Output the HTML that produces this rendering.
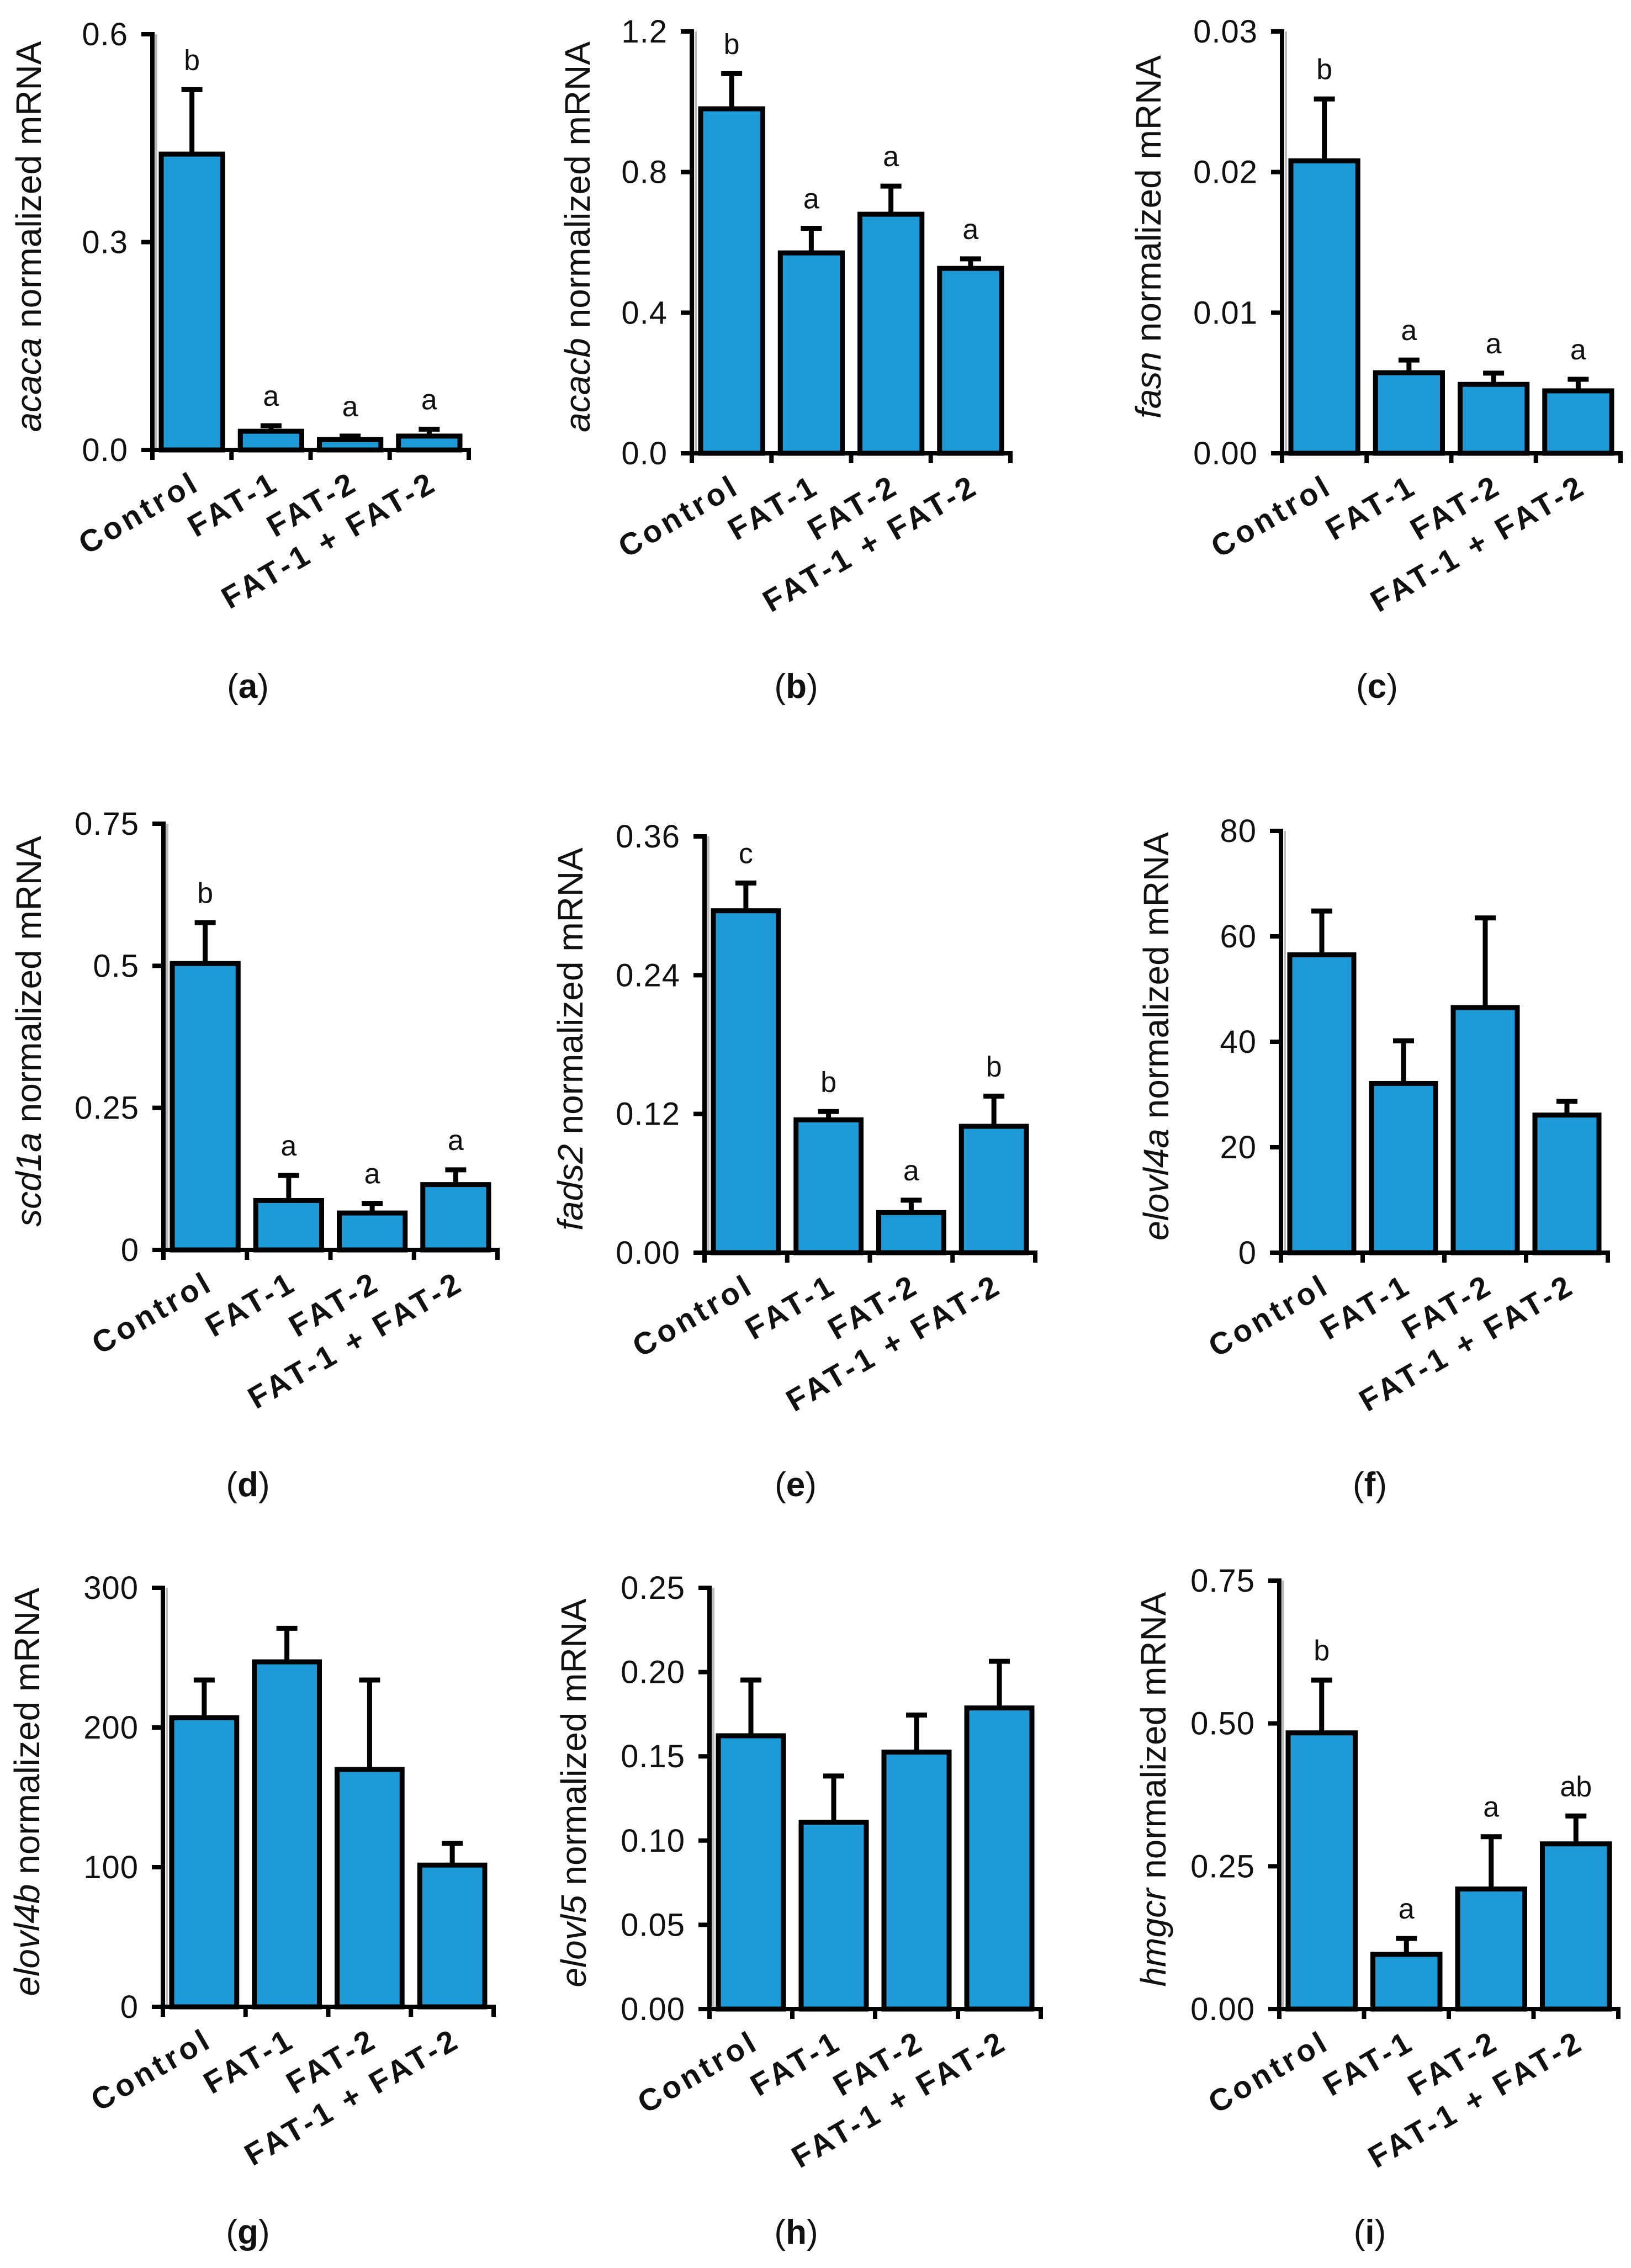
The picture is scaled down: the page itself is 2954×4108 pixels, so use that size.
<!DOCTYPE html>
<html><head><meta charset="utf-8">
<style>
html,body{margin:0;padding:0;background:#fff;}
svg{display:block;}
text{font-family:"Liberation Sans",Arial,sans-serif;fill:#111;}
</style></head>
<body>
<svg id="fig" width="2954" height="4108" viewBox="0 0 2954 4108" xmlns="http://www.w3.org/2000/svg"></svg>
<script>
const categories = ["Control", "FAT-1", "FAT-2", "FAT-1 + FAT-2"];

const acacaMean = [0.427, 0.027, 0.015, 0.020];
const acacaErr  = [0.520, 0.035, 0.020, 0.030];
const acacaLetters = ["b", "a", "a", "a"];
const acacaTicks = ["0.0", "0.3", "0.6"];
const acacaTickVals = [0, 0.3, 0.6];

const acacbMean = [0.98, 0.57, 0.68, 0.526];
const acacbErr  = [1.08, 0.64, 0.76, 0.553];
const acacbLetters = ["b", "a", "a", "a"];
const acacbTicks = ["0.0", "0.4", "0.8", "1.2"];
const acacbTickVals = [0, 0.4, 0.8, 1.2];

const fasnMean = [0.0208, 0.00573, 0.0049, 0.00444];
const fasnErr  = [0.0252, 0.00663, 0.0057, 0.00526];
const fasnLetters = ["b", "a", "a", "a"];
const fasnTicks = ["0.00", "0.01", "0.02", "0.03"];
const fasnTickVals = [0, 0.01, 0.02, 0.03];

const scd1aMean = [0.504, 0.087, 0.065, 0.115];
const scd1aErr  = [0.576, 0.131, 0.082, 0.141];
const scd1aLetters = ["b", "a", "a", "a"];
const scd1aTicks = ["0", "0.25", "0.5", "0.75"];
const scd1aTickVals = [0, 0.25, 0.5, 0.75];

const fads2Mean = [0.2957, 0.1149, 0.0347, 0.1093];
const fads2Err  = [0.3197, 0.1221, 0.0454, 0.1354];
const fads2Letters = ["c", "b", "a", "b"];
const fads2Ticks = ["0.00", "0.12", "0.24", "0.36"];
const fads2TickVals = [0, 0.12, 0.24, 0.36];

const elovl4aMean = [56.5, 32.1, 46.5, 26.1];
const elovl4aErr  = [64.8, 40.2, 63.5, 28.7];
const elovl4aLetters = ["", "", "", ""];
const elovl4aTicks = ["0", "20", "40", "60", "80"];
const elovl4aTickVals = [0, 20, 40, 60, 80];

const elovl4bMean = [207, 247, 170, 101.5];
const elovl4bErr  = [234, 271, 234, 117];
const elovl4bLetters = ["", "", "", ""];
const elovl4bTicks = ["0", "100", "200", "300"];
const elovl4bTickVals = [0, 100, 200, 300];

const elovl5Mean = [0.1622, 0.1109, 0.1525, 0.1787];
const elovl5Err  = [0.1953, 0.1383, 0.1745, 0.2064];
const elovl5Letters = ["", "", "", ""];
const elovl5Ticks = ["0.00", "0.05", "0.10", "0.15", "0.20", "0.25"];
const elovl5TickVals = [0, 0.05, 0.10, 0.15, 0.20, 0.25];

const hmgcrMean = [0.4835, 0.0958, 0.2102, 0.2892];
const hmgcrErr  = [0.5759, 0.1236, 0.3018, 0.338];
const hmgcrLetters = ["b", "a", "a", "ab"];
const hmgcrTicks = ["0.00", "0.25", "0.50", "0.75"];
const hmgcrTickVals = [0, 0.25, 0.50, 0.75];

const NS = "http://www.w3.org/2000/svg";
const svg = document.getElementById("fig");
function mk(tag, attrs, parent) {
  const e = document.createElementNS(NS, tag);
  for (const k in attrs) e.setAttribute(k, attrs[k]);
  (parent || svg).appendChild(e);
  return e;
}

const panels = [
  {id:"a", gene:"acaca", mean:acacaMean, err:acacaErr, letters:acacaLetters, ticks:acacaTicks, tv:acacaTickVals, ax:276, right:849, top:62, zero:815, tx:51, lx:449, ly:1242},
  {id:"b", gene:"acacb", mean:acacbMean, err:acacbErr, letters:acacbLetters, ticks:acacbTicks, tv:acacbTickVals, ax:1253, right:1830, top:57, zero:821, tx:1045, lx:1442, ly:1242},
  {id:"c", gene:"fasn", mean:fasnMean, err:fasnErr, letters:fasnLetters, ticks:fasnTicks, tv:fasnTickVals, ax:2322, right:2935, top:57, zero:821, tx:2079, lx:2494, ly:1242},
  {id:"d", gene:"scd1a", mean:scd1aMean, err:scd1aErr, letters:scd1aLetters, ticks:scd1aTicks, tv:scd1aTickVals, ax:296, right:901, top:1492, zero:2264, tx:51, lx:449, ly:2688},
  {id:"e", gene:"fads2", mean:fads2Mean, err:fads2Err, letters:fads2Letters, ticks:fads2Ticks, tv:fads2TickVals, ax:1276, right:1875, top:1515, zero:2269, tx:1032, lx:1441, ly:2688},
  {id:"f", gene:"elovl4a", mean:elovl4aMean, err:elovl4aErr, letters:elovl4aLetters, ticks:elovl4aTicks, tv:elovl4aTickVals, ax:2320, right:2912, top:1505, zero:2269, tx:2093, lx:2481, ly:2688},
  {id:"g", gene:"elovl4b", mean:elovl4bMean, err:elovl4bErr, letters:elovl4bLetters, ticks:elovl4bTicks, tv:elovl4bTickVals, ax:295, right:894, top:2876, zero:3635, tx:48, lx:449, ly:4042},
  {id:"h", gene:"elovl5", mean:elovl5Mean, err:elovl5Err, letters:elovl5Letters, ticks:elovl5Ticks, tv:elovl5TickVals, ax:1285, right:1885, top:2876, zero:3639, tx:1038, lx:1442, ly:4042},
  {id:"i", gene:"hmgcr", mean:hmgcrMean, err:hmgcrErr, letters:hmgcrLetters, ticks:hmgcrTicks, tv:hmgcrTickVals, ax:2317, right:2931, top:2863, zero:3639, tx:2088, lx:2481, ly:4042}
];

panels.forEach(p => {
  const g = mk("g", {});
  
  
  const maxV = p.tv[p.tv.length - 1];
  const y = v => p.zero - (v / maxV) * (p.zero - p.top);
  const slot = (p.right - p.ax) / 4;
  const xc = i => p.ax + slot * (i + 0.5);

  p.mean.forEach((v, i) => {
    const ey = y(p.err[i]);
    const el = mk("line", {x1:xc(i), x2:xc(i), y1:y(v), y2:ey, stroke:"#000", "stroke-width":9}, g);
    
    
    const cap = mk("line", {x1:xc(i)-19, x2:xc(i)+19, y1:ey, y2:ey, stroke:"#000", "stroke-width":9}, g);
    
    
    const r = mk("rect", {x:p.ax + slot*i + 16, y:y(v), width:slot - 32, height:p.zero - y(v), fill:"#1e9bd7", stroke:"#000", "stroke-width":9}, g);
    
    
    if (p.letters[i]) {
      const t = mk("text", {x:xc(i), y:ey - 36, "font-size":52, "text-anchor":"middle"}, g);
      t.textContent = p.letters[i];
      
      
    }
    const xl = mk("text", {x:0, y:0, "font-size":56, "font-weight":"bold", "text-anchor":"end", "letter-spacing":6,
      transform:"translate(" + (xc(i) + 18) + "," + (p.zero + 70) + ") rotate(-30)"}, g);
    xl.textContent = categories[i];
    
    
  });

  const shadow = mk("line", {x1:p.ax+7, x2:p.ax+7, y1:p.top, y2:p.zero, stroke:"#bbb", "stroke-width":4}, g);
  
  
  const ya = mk("line", {x1:p.ax, x2:p.ax, y1:p.top - 4, y2:p.zero + 4, stroke:"#000", "stroke-width":8}, g);
  
  
  const xa = mk("line", {x1:p.ax - 20, x2:p.right + 4, y1:p.zero, y2:p.zero, stroke:"#000", "stroke-width":8}, g);
  
  
  for (let k = 0; k <= 4; k++) {
    const tx = p.ax + slot * k;
    const t = mk("line", {x1:tx, x2:tx, y1:p.zero, y2:p.zero + 18, stroke:"#000", "stroke-width":8}, g);
    
    
  }
  p.tv.forEach((v, k) => {
    const t = mk("line", {x1:p.ax - 20, x2:p.ax, y1:y(v), y2:y(v), stroke:"#000", "stroke-width":8}, g);
    
    
    const l = mk("text", {x:p.ax - 44, y:y(v) + 20, "font-size":58, "text-anchor":"end", "letter-spacing":1}, g);
    l.textContent = p.ticks[k];
    
    
  });

  const mid = (p.top + p.zero) / 2 - 10;
  const yt = mk("text", {x:0, y:0, "font-size":64, "text-anchor":"middle",
    transform:"translate(" + (p.tx + 23) + "," + mid + ") rotate(-90)"}, g);
  const it = mk("tspan", {"font-style":"italic"}, yt);
  it.textContent = p.gene;
  const rest = mk("tspan", {}, yt);
  rest.textContent = " normalized mRNA";
  
  

  const pl = mk("text", {x:p.lx, y:p.ly + 22, "font-size":62, "text-anchor":"middle"}, g);
  const a1 = mk("tspan", {}, pl); a1.textContent = "(";
  const a2 = mk("tspan", {"font-weight":"bold"}, pl); a2.textContent = p.id;
  const a3 = mk("tspan", {}, pl); a3.textContent = ")";
  
  
});
</script>
</body></html>
